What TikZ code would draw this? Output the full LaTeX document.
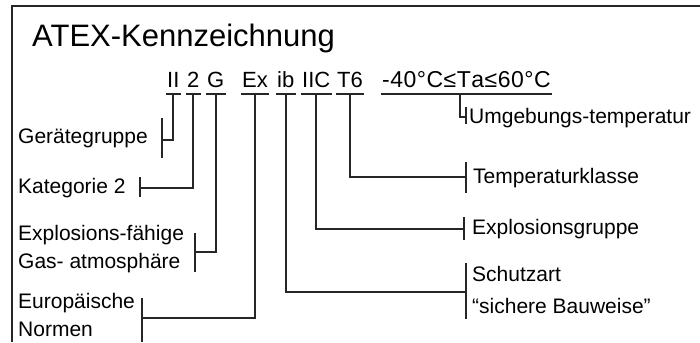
\documentclass[tikz,border=0pt]{standalone}
\usepackage{fontspec}
\setmainfont{Liberation Sans}
\usetikzlibrary{calc}
\begin{document}
\begin{tikzpicture}[x=1pt,y=-1pt,
  lbl/.style={anchor=base west,inner sep=0pt,font=\fontsize{21}{21}\selectfont},
  tok/.style={anchor=base west,inner xsep=1pt,inner ysep=0pt,text depth=0pt,outer ysep=0pt,font=\fontsize{22}{22}\selectfont},
  conn/.style={line width=2pt,line cap=rect,black!85},
  tick/.style={line width=2pt,line cap=butt,black!85},
  frame/.style={line width=2.5pt,black!85}]
\useasboundingbox (0,0) rectangle (700,342);
\draw[frame] (12,342) -- (12,6) -- (700,6);
\node[anchor=base west,inner sep=0pt,font=\fontsize{31}{31}\selectfont] (title) at (32,47) {ATEX-Kennzeichnung};
% tokens
\node[tok] (t1) at (166,88) {II};
\node[tok] (t2) at (186,88) {2};
\node[tok] (t3) at (206,88) {G};
\node[tok] (t4) at (241,88) {Ex};
\node[tok] (t5) at (276,88) {ib};
\node[tok] (t6) at (301,88) {IIC};
\node[tok] (t7) at (336,88) {T6};
\node[tok,font=\fontsize{23}{23}\selectfont] (t8) at (381,88) {-\kern.5pt4\kern.5pt0\kern.5pt°\kern.5pt C\kern.5pt≤\kern.5pt T\kern.5pt a\kern.5pt≤\kern.5pt6\kern.5pt0\kern.5pt°\kern.5pt C};
% underlines
\foreach \t in {t1,t2,t3,t4,t5,t6,t7,t8}{
  \draw[tick] ($(\t.base west)+(0,6)$) -- ($(\t.base east)+(0,6)$);
}
% labels
\node[lbl] (l1) at (18,143) {Gerätegruppe};
\node[lbl] (l2) at (18,193) {Kategorie 2};
\node[lbl] (l3a) at (18,240) {Explosions-fähige};
\node[lbl] (l3b) at (18,268) {Gas- atmosphäre};
\node[lbl] (l4a) at (18,308) {Europäische};
\node[lbl] (l4b) at (18,336) {Normen};
\node[lbl] (l8) at (469,123) {Umgebungs-temperatur};
\node[lbl] (l7) at (473,183) {Temperaturklasse};
\node[lbl] (l6) at (472,234) {Explosionsgruppe};
\node[lbl] (l5a) at (472,281) {Schutzart};
\node[lbl] (l5b) at (472,313) {“sichere Bauweise”};
% tick coordinates
\coordinate (k1) at (162,140); \draw[tick] (162,118) -- (162,158);
\coordinate (k2) at (140,188); \draw[tick] (140,177) -- (140,197);
\coordinate (k3) at (195,252); \draw[tick] (195,233) -- (195,272);
\coordinate (k4) at (142,318); \draw[tick] (142,298) -- (142,342);
\coordinate (k5) at (466,292); \draw[tick] (466,263) -- (466,319);
\coordinate (k6) at (464,229); \draw[tick] (464,217) -- (464,240);
\coordinate (k7) at (466,177); \draw[tick] (466,162) -- (466,193);
\coordinate (k8) at (466,117); \draw[tick] (466,107) -- (466,124);
\coordinate (s8) at (460,94);
% connectors
\draw[conn] ($(t1.base)+(0,6)$) |- (k1);
\draw[conn] ($(t2.base)+(0,6)$) |- (k2);
\draw[conn] ($(t3.base)+(0,6)$) |- (k3);
\draw[conn] ($(t4.base)+(0,6)$) |- (k4);
\draw[conn] ($(t5.base)+(0,6)$) |- (k5);
\draw[conn] ($(t6.base)+(0,6)$) |- (k6);
\draw[conn] ($(t7.base)+(0,6)$) |- (k7);
\draw[conn] (s8) |- (k8);
\end{tikzpicture}
\end{document}
